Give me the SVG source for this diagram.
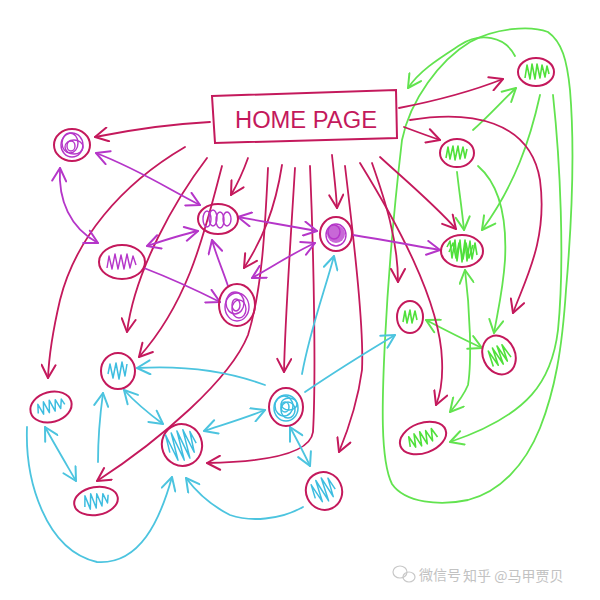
<svg xmlns="http://www.w3.org/2000/svg" width="600" height="600" viewBox="0 0 600 600">
<style>
.c{fill:none;stroke:#c4195c;stroke-width:1.8;stroke-linecap:round}
.p{fill:none;stroke:#b536c9;stroke-width:1.8;stroke-linecap:round}
.g{fill:none;stroke:#62e34f;stroke-width:1.8;stroke-linecap:round}
.cy{fill:none;stroke:#4cc4df;stroke-width:1.8;stroke-linecap:round}
.o{fill:none;stroke:#c4195c;stroke-width:2}
.sp{fill:none;stroke:#b536c9;stroke-width:1.4;stroke-linejoin:round}
.sg{fill:none;stroke:#4fe03a;stroke-width:1.6;stroke-linejoin:round}
.sc{fill:none;stroke:#3dbde0;stroke-width:1.5;stroke-linejoin:round}
.wm{font-family:"Noto Sans CJK SC","Liberation Sans",sans-serif;font-size:14px;fill:#c2c2c2}
</style>
<defs>
<marker id="ac" viewBox="0 0 16 16" refX="15" refY="8" markerWidth="16" markerHeight="16" markerUnits="userSpaceOnUse" orient="auto-start-reverse"><path d="M2,1 L15,8 L2,15" fill="none" stroke="#c4195c" stroke-width="2" stroke-linecap="round" stroke-linejoin="round"/></marker>
<marker id="ap" viewBox="0 0 16 16" refX="15" refY="8" markerWidth="16" markerHeight="16" markerUnits="userSpaceOnUse" orient="auto-start-reverse"><path d="M2,1 L15,8 L2,15" fill="none" stroke="#b536c9" stroke-width="2" stroke-linecap="round" stroke-linejoin="round"/></marker>
<marker id="ag" viewBox="0 0 16 16" refX="15" refY="8" markerWidth="16" markerHeight="16" markerUnits="userSpaceOnUse" orient="auto-start-reverse"><path d="M2,1 L15,8 L2,15" fill="none" stroke="#62e34f" stroke-width="2" stroke-linecap="round" stroke-linejoin="round"/></marker>
<marker id="acy" viewBox="0 0 16 16" refX="15" refY="8" markerWidth="16" markerHeight="16" markerUnits="userSpaceOnUse" orient="auto-start-reverse"><path d="M2,1 L15,8 L2,15" fill="none" stroke="#4cc4df" stroke-width="2" stroke-linecap="round" stroke-linejoin="round"/></marker>
</defs>
<rect width="600" height="600" fill="#ffffff"/>

<g id="connectors">
  <!-- green -->
  <path class="g" d="M470,42 C440,60 410,100 402,140 C395,200 388,280 385,340 C382,400 380,460 392,484 C405,503 440,506 468,500 C500,492 525,465 540,428 C555,390 562,350 566,290 C572,220 575,150 570,90 C567,60 562,42 548,32 C530,25 495,28 470,42 Z"/>
  <path class="g" d="M515,56 C505,36 480,32 460,45 C440,58 420,70 408,88" marker-end="url(#ag)"/>
  <path class="g" d="M473,130 C490,115 503,100 516,88" marker-end="url(#ag)"/>
  <path class="g" d="M457,172 C459,190 462,210 464,230" marker-end="url(#ag)"/>
  <path class="g" d="M540,95 C530,140 515,185 482,230" marker-end="url(#ag)"/>
  <path class="g" d="M478,166 C500,185 507,220 505,260 C503,290 498,310 494,333" marker-end="url(#ag)"/>
  <path class="g" d="M465,270 C470,310 472,360 468,385 C463,397 456,405 450,412" marker-start="url(#ag)" marker-end="url(#ag)"/>
  <path class="g" d="M426,320 C445,330 465,340 482,348" marker-start="url(#ag)" marker-end="url(#ag)"/>
  <path class="g" d="M553,95 C560,160 565,260 558,330 C552,380 530,415 450,442" marker-end="url(#ag)"/>
  <!-- crimson -->
  <path class="c" d="M210,122 C170,124 130,130 95,137" marker-end="url(#ac)"/>
  <path class="c" d="M399,108 C440,100 470,92 503,79" marker-end="url(#ac)"/>
  <path class="c" d="M404,127 C420,133 428,136 440,140" marker-end="url(#ac)"/>
  <path class="c" d="M410,120 C470,110 530,120 540,180 C548,240 525,280 513,313" marker-end="url(#ac)"/>
  <path class="c" d="M380,157 C405,180 435,205 456,229" marker-end="url(#ac)"/>
  <path class="c" d="M372,163 C385,200 398,240 398,282" marker-end="url(#ac)"/>
  <path class="c" d="M332,155 C334,175 336,190 337,208" marker-end="url(#ac)"/>
  <path class="c" d="M360,163 C395,220 440,300 442,360 C443,380 440,395 436,405" marker-end="url(#ac)"/>
  <path class="c" d="M185,147 C120,185 75,240 60,300 C53,330 49,355 48,378" marker-end="url(#ac)"/>
  <path class="c" d="M207,158 C175,200 135,270 127,332" marker-end="url(#ac)"/>
  <path class="c" d="M222,166 C205,230 190,300 139,357" marker-end="url(#ac)"/>
  <path class="c" d="M248,158 C243,172 238,183 231,195" marker-end="url(#ac)"/>
  <path class="c" d="M268,168 C265,230 262,290 248,335 C230,380 160,440 97,481" marker-end="url(#ac)"/>
  <path class="c" d="M282,165 C275,210 262,240 244,268" marker-end="url(#ac)"/>
  <path class="c" d="M295,168 C290,250 285,320 284,372" marker-end="url(#ac)"/>
  <path class="c" d="M310,166 C314,260 316,380 313,432 C310,455 260,462 207,463" marker-end="url(#ac)"/>
  <path class="c" d="M345,166 C355,250 364,330 362,370 C358,400 348,430 339,452" marker-end="url(#ac)"/>
  <!-- purple -->
  <path class="p" d="M96,153 C140,170 170,190 200,205" marker-start="url(#ap)" marker-end="url(#ap)"/>
  <path class="p" d="M60,168 C58,200 70,228 98,243" marker-start="url(#ap)" marker-end="url(#ap)"/>
  <path class="p" d="M147,246 C165,240 180,235 198,231" marker-start="url(#ap)" marker-end="url(#ap)"/>
  <path class="p" d="M144,268 C175,280 200,292 220,302" marker-end="url(#ap)"/>
  <path class="p" d="M228,286 C222,268 216,255 212,240" marker-end="url(#ap)"/>
  <path class="p" d="M238,217 C265,222 290,226 317,231" marker-start="url(#ap)" marker-end="url(#ap)"/>
  <path class="p" d="M252,278 C275,265 295,252 315,243" marker-start="url(#ap)" marker-end="url(#ap)"/>
  <path class="p" d="M353,235 C385,240 410,245 440,250" marker-end="url(#ap)"/>
  <!-- cyan -->
  <path class="cy" d="M302,374 C310,330 325,290 334,256" marker-end="url(#acy)"/>
  <path class="cy" d="M305,392 C330,375 370,350 395,335" marker-end="url(#acy)"/>
  <path class="cy" d="M265,385 C230,372 190,365 137,368" marker-end="url(#acy)"/>
  <path class="cy" d="M265,410 C245,418 225,424 204,431" marker-start="url(#acy)" marker-end="url(#acy)"/>
  <path class="cy" d="M290,427 C297,440 304,453 310,466" marker-start="url(#acy)" marker-end="url(#acy)"/>
  <path class="cy" d="M303,507 C280,520 250,522 230,515 C210,505 195,490 186,478" marker-end="url(#acy)"/>
  <path class="cy" d="M124,390 C135,402 148,413 163,424" marker-start="url(#acy)" marker-end="url(#acy)"/>
  <path class="cy" d="M98,462 C98,440 100,415 103,393" marker-end="url(#acy)"/>
  <path class="cy" d="M45,427 C55,445 65,462 76,481" marker-start="url(#acy)" marker-end="url(#acy)"/>
  <path class="cy" d="M27,427 C25,480 45,550 97,562 C140,565 160,520 172,477" marker-end="url(#acy)"/>
</g>

<g id="home">
  <path class="o" d="M212,96 L396,90 L397,138 L215,143 Z"/>
  <text x="235" y="128" textLength="142" lengthAdjust="spacingAndGlyphs" font-family="Liberation Sans, sans-serif" font-size="23" fill="#c4195c">HOME PAGE</text>
</g>

<g id="n1">
  <ellipse class="o" cx="72" cy="145" rx="18" ry="16"/>
  <ellipse class="sp" cx="72" cy="145" rx="11" ry="12"/>
  <ellipse class="sp" cx="70" cy="143" rx="8" ry="10"/>
  <ellipse class="sp" cx="74" cy="147" rx="9" ry="7"/>
  <ellipse class="sp" cx="71" cy="146" rx="4" ry="5"/>
</g>
<g id="n2">
  <ellipse class="o" cx="218" cy="219" rx="20" ry="15"/>
  <ellipse class="sp" cx="207" cy="219" rx="4" ry="8"/>
  <ellipse class="sp" cx="213" cy="218" rx="4" ry="8"/>
  <ellipse class="sp" cx="220" cy="220" rx="4" ry="8"/>
  <ellipse class="sp" cx="227" cy="219" rx="4" ry="7"/>
</g>
<g id="n3">
  <ellipse class="o" cx="336" cy="234" rx="16" ry="17"/>
  <circle cx="336" cy="234" r="9" fill="#b536c9" opacity="0.75"/>
  <ellipse class="sp" cx="336" cy="235" rx="10" ry="11"/>
  <ellipse class="sp" cx="334" cy="232" rx="6" ry="7"/>
</g>
<g id="n4">
  <ellipse class="o" cx="122" cy="262" rx="23" ry="17"/>
  <path class="sp" d="M107,268 L109,256 L112,269 L115,254 L118,269 L121,255 L124,269 L127,254 L130,268 L133,256 L136,265"/>
</g>
<g id="n5">
  <ellipse class="o" cx="237" cy="305" rx="18" ry="21"/>
  <ellipse class="sp" cx="237" cy="307" rx="12" ry="14"/>
  <ellipse class="sp" cx="235" cy="303" rx="9" ry="11"/>
  <ellipse class="sp" cx="239" cy="309" rx="7" ry="9"/>
  <ellipse class="sp" cx="236" cy="305" rx="4" ry="6"/>
</g>

<g id="g1">
  <ellipse class="o" cx="536" cy="72" rx="18" ry="14"/>
  <path class="sg" d="M525,78 L527,65 L530,79 L532,64 L535,79 L537,64 L540,78 L542,65 L545,77 L547,66 L549,74"/>
</g>
<g id="g2">
  <ellipse class="o" cx="457" cy="153" rx="17" ry="14"/>
  <path class="sg" d="M446,158 L448,147 L450,159 L453,146 L455,160 L458,146 L460,159 L463,147 L465,158 L467,149"/>
</g>
<g id="g3">
  <ellipse class="o" cx="462" cy="251" rx="21" ry="16"/>
  <path class="sg" d="M447,247 L450,241 L452,258 L455,240 L457,261 L460,240 L462,262 L465,240 L467,261 L470,241 L472,259 L475,243 L477,255"/>
  <path class="sg" d="M449,252 L453,243 L456,258 L459,243 L463,259 L466,243 L469,258 L473,245"/>
</g>
<g id="g4">
  <ellipse class="o" cx="410" cy="317" rx="13" ry="16"/>
  <path class="sg" d="M403,322 L405,311 L407,323 L410,310 L412,323 L415,311 L417,320"/>
</g>
<g id="g5" transform="rotate(-25 499 355)">
  <ellipse class="o" cx="499" cy="355" rx="16" ry="20"/>
  <path class="sg" d="M489,363 L491,347 L494,364 L496,346 L499,365 L501,346 L504,364 L506,347 L509,362"/>
</g>
<g id="g6" transform="rotate(-20 423 438)">
  <ellipse class="o" cx="423" cy="438" rx="24" ry="15"/>
  <path class="sg" d="M408,442 L410,432 L413,444 L416,431 L419,445 L422,431 L425,445 L428,432 L431,444 L434,432 L437,442"/>
</g>

<g id="c1">
  <ellipse class="o" cx="118" cy="371" rx="17" ry="18"/>
  <path class="sc" d="M108,374 L110,364 L113,378 L116,363 L119,379 L122,362 L125,376 L127,364"/>
</g>
<g id="c2" transform="rotate(-15 51 407)">
  <ellipse class="o" cx="51" cy="407" rx="21" ry="15"/>
  <path class="sc" d="M37,410 L39,401 L42,412 L45,400 L48,412 L51,400 L54,412 L57,401 L60,411 L63,402 L65,408"/>
</g>
<g id="c3">
  <ellipse class="o" cx="286" cy="407" rx="17" ry="19"/>
  <ellipse class="sc" cx="286" cy="408" rx="12" ry="13"/>
  <ellipse class="sc" cx="284" cy="406" rx="9" ry="10"/>
  <ellipse class="sc" cx="288" cy="410" rx="7" ry="8"/>
  <ellipse class="sc" cx="285" cy="407" rx="4" ry="5"/>
  <ellipse class="sc" cx="289" cy="404" rx="8" ry="6"/>
</g>
<g id="c4" transform="rotate(-20 182 445)">
  <ellipse class="o" cx="182" cy="445" rx="20" ry="21"/>
  <path class="sc" d="M168,448 L170,430 L173,458 L176,430 L179,460 L182,430 L185,460 L188,431 L191,456 L194,435 L196,448"/>
</g>
<g id="c5" transform="rotate(-10 96 501)">
  <ellipse class="o" cx="96" cy="501" rx="22" ry="14"/>
  <path class="sc" d="M84,505 L86,494 L89,508 L92,493 L95,508 L98,494 L101,507 L104,495 L107,505 L109,497"/>
</g>
<g id="c6" transform="rotate(-25 324 491)">
  <ellipse class="o" cx="324" cy="491" rx="18" ry="19"/>
  <path class="sc" d="M313,494 L315,480 L318,500 L321,478 L324,502 L327,478 L330,500 L333,481 L335,494"/>
</g>

<g id="watermark">
  <ellipse cx="400" cy="572" rx="7" ry="6" fill="none" stroke="#c8c8c8" stroke-width="1.2"/>
  <ellipse cx="409" cy="577" rx="6" ry="5" fill="none" stroke="#c8c8c8" stroke-width="1.2"/>
  <text class="wm" x="419" y="580">微信号</text>
  <text class="wm" x="463" y="581">知乎 @马甲贾贝</text>
</g>
</svg>
